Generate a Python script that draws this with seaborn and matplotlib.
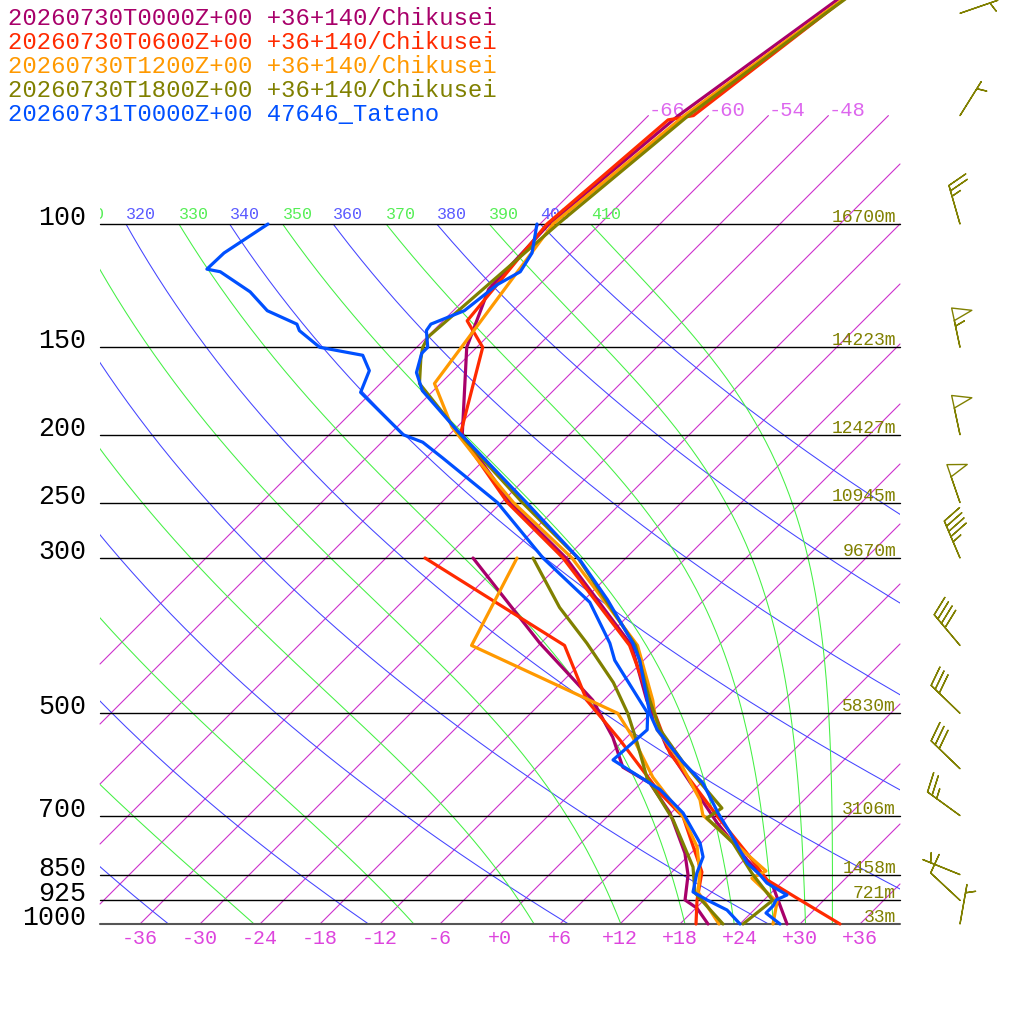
import numpy as np
import pandas as pd
import matplotlib
matplotlib.use("Agg")
import matplotlib.pyplot as plt
from matplotlib.patches import Rectangle
from matplotlib.transforms import Bbox, TransformedBbox
import seaborn as sns

# ---- sounding data (pressure hPa, temperature degC) ----
P_00_T = [1000, 885, 810, 717, 637, 559, 479, 400, 300, 250, 200, 150, 124, 100, 70, 50, 40]
T_00 = [28.7, 23.6, 18.3, 11.6, 5.6, -1.0, -7.7, -14.7, -30.0, -41.1, -52.7, -61.0, -64.6, -65.1, -63.0, -59.2, -56.7]
P_00_TD = [1000, 949, 924, 851, 792, 694, 629, 597, 541, 479, 397, 300]
TD_00 = [20.8, 18.1, 16.1, 13.9, 11.4, 5.9, 0.9, -3.4, -7.4, -13.1, -24.1, -39.3]

P_06_T = [1000, 924, 865, 792, 710, 650, 570, 479, 400, 300, 250, 200, 150, 137.5, 100, 71, 70, 50, 40]
T_06 = [34.0, 27.6, 22.3, 17.6, 11.6, 6.9, -0.1, -7.4, -14.9, -30.3, -41.4, -52.9, -59.4, -63.6, -65.3, -63.6, -61.5, -58.5, -56.6]
P_06_TD = [1000, 924, 843, 703, 650, 546, 479, 400, 300]
TD_06 = [19.6, 17.3, 15.0, 7.6, 2.9, -6.4, -13.7, -21.4, -44.1]

P_12_T = [1000, 930, 860, 840, 699, 665, 577, 528, 479, 400, 300, 250, 217, 195, 169, 100, 70, 50, 40]
T_12 = [27.3, 25.5, 20.6, 21.3, 9.4, 7.6, 1.0, -3.7, -7.1, -14.1, -29.4, -40.8, -48.7, -54.5, -60.6, -64.7, -62.4, -58.7, -56.1]
P_12_TD = [1000, 900, 846, 776, 703, 617, 541, 500, 400, 300]
TD_12 = [21.9, 16.6, 14.9, 12.0, 7.6, 0.6, -5.4, -9.3, -30.7, -34.9]

P_18_T = [1000, 925, 846, 766, 706, 683, 587, 528, 479, 400, 300, 250, 200, 169, 156, 150, 145, 100, 70, 50, 40]
T_18 = [24.3, 24.9, 20.1, 15.2, 10.1, 10.6, 2.1, -3.4, -7.4, -14.3, -28.8, -39.9, -52.9, -62.1, -64.4, -65.4, -65.9, -64.2, -62.0, -58.5, -56.0]
P_18_TD = [1000, 903, 829, 710, 617, 551, 500, 452, 397, 353, 300]
TD_18 = [22.3, 16.4, 13.6, 6.9, 0.0, -4.4, -8.3, -12.8, -19.4, -25.7, -33.3]

P_OBS_T = [1000, 964.5, 942, 924, 909, 874, 851, 818, 741, 694, 629, 587, 528, 500, 420, 397, 344, 302,
           250, 197, 173, 163, 153, 150, 142, 139, 133, 122, 117, 110, 100]
T_OBS = [28.0, 25.5, 25.5, 25.2, 25.8, 22.6, 21.1, 18.6, 13.9, 10.7, 6.2, 2.1, -3.7, -6.1, -12.4, -14.8, -21.7, -28.4,
         -39.5, -53.7, -61.1, -63.5, -64.9, -64.9, -66.7, -66.9, -64.9, -64.2, -63.2, -63.9, -66.3]
P_OBS_TD = [1000, 955, 924, 900, 846, 802, 766, 694, 643, 583, 528, 500, 420, 397, 347, 300, 250, 216, 205, 200,
            174, 162, 154, 150, 142, 139, 133, 125, 117, 116, 110, 100]
TD_OBS = [24.0, 21.3, 18.3, 16.1, 14.6, 13.6, 11.9, 7.2, 2.6, -5.1, -4.7, -6.3, -14.9, -17.1, -23.2, -32.3, -42.4,
          -52.3, -55.9, -58.6, -67.1, -68.4, -70.6, -75.7, -79.4, -80.3, -84.6, -88.2, -93.2, -94.8, -94.7, -93.2]

RUNS = ["20260730T0000Z+00 +36+140/Chikusei",
        "20260730T0600Z+00 +36+140/Chikusei",
        "20260730T1200Z+00 +36+140/Chikusei",
        "20260730T1800Z+00 +36+140/Chikusei",
        "20260731T0000Z+00 47646_Tateno"]
COLORS = ["#a8006a", "#ff2a00", "#ff9900", "#808000", "#0050ff"]

# winds (1800Z run): direction deg, speed kt
WIND_P = [1000, 925, 850, 700, 600, 500, 400, 300, 250, 200, 150, 100, 70, 50]
WIND_DIR = [10, 313, 292, 306, 314, 314, 320, 337, 341, 348, 348, 344, 32, 71]
WIND_SPD = [5, 10, 5, 25, 30, 30, 40, 45, 50, 50, 55, 25, 5, 5]

ISOBARS = [100, 150, 200, 250, 300, 500, 700, 850, 925, 1000]
HEIGHTS = ["16700m", "14223m", "12427m", "10945m", "9670m", "5830m", "3106m", "1458m", "721m", "33m"]
T_TICKS = list(range(-36, 37, 6))

SKEW = 30.4  # y units per ln(1000/p); 1 unit = 10 px


def ypos(p):
    return SKEW * np.log(1000.0 / np.asarray(p, dtype=float))


def xpos(t, p):
    return np.asarray(t, dtype=float) + ypos(p)


def theta_e(t, p):
    es = 6.112 * np.exp(17.67 * t / (t + 243.5))
    r = 0.622 * es / (p - es)
    tk = t + 273.15
    return tk * (1000.0 / p) ** (0.2854 * (1 - 0.28 * r)) * np.exp((3.376 / tk - 0.00254) * r * 1000 * (1 + 0.81 * r))


def moist_adiabat(the, p):
    lo = np.full_like(p, -160.0)
    hi = np.full_like(p, 40.0)
    with np.errstate(all="ignore"):
        for _ in range(50):
            mid = 0.5 * (lo + hi)
            below = theta_e(mid, p) < the
            lo = np.where(below, mid, lo)
            hi = np.where(below, hi, mid)
    return 0.5 * (lo + hi)


sns.set_theme(style="white")
plt.rcParams["font.family"] = ["Liberation Mono", "DejaVu Sans Mono"]

fig = plt.figure(figsize=(10.24, 10.24), dpi=100)
ax = fig.add_axes([0, 0, 1, 1])
ax.set_xlim(-50, 52.4)
ax.set_ylim(-10, 92.4)
ax.axis("off")

y_top = ypos(100)
y70 = ypos(70)
box = Rectangle((-40, 0), 80, y_top, transform=ax.transData, facecolor="none", edgecolor="none")
label_clip = TransformedBbox(Bbox([[-40, -5], [40, 95]]), ax.transData)

pgrid = np.geomspace(1000, 100, 200)


def theta_label(x, text, color):
    # labels along the 100 hPa line, cut at the left edge of the diagram
    if x + 3.0 < -40:
        return
    txt = ax.text(x, y_top + 0.55, text, color=color, fontsize=12, ha="left", va="baseline")
    txt.set_clip_box(label_clip)
    txt.set_clip_on(True)


# isotherms
for t in range(-66, 37, 6):
    y0 = max(0.0, -40 - t)
    y1 = min(y70, 40 - t)
    ax.plot([t + y0, t + y1], [y0, y1], color="#cc33cc", lw=0.8, zorder=1)
    if t <= -48:
        ax.text(t + y70, y70, f"{t}", color="#dd66ee", fontsize=14.8, ha="left", va="baseline")

# dry adiabats
for th in range(240, 401, 20):
    tt = th * (pgrid / 1000.0) ** 0.2857 - 273.15
    ln, = ax.plot(xpos(tt, pgrid), ypos(pgrid), color="#4444ff", lw=0.75, zorder=1)
    ln.set_clip_path(box)
    theta_label(th * 0.1 ** 0.2857 - 273.15 + y_top, str(th), "#5a5aff")

# moist adiabats
for th in range(250, 411, 20):
    tt = moist_adiabat(th, pgrid)
    ln, = ax.plot(xpos(tt, pgrid), ypos(pgrid), color="#44f044", lw=0.75, zorder=1)
    ln.set_clip_path(box)
    theta_label(tt[-1] + y_top, str(th), "#55ee55")

# isobars, pressure and height labels
for p, h in zip(ISOBARS, HEIGHTS):
    yy = ypos(p)
    if p == 1000:
        ax.plot([-40, 40], [yy, yy], color="#555555", lw=1.5, zorder=2)
    else:
        ax.plot([-40, 40], [yy, yy], color="black", lw=1.0, zorder=2)
    ax.text(-41.4, yy - 0.1, str(p), color="black", fontsize=19.2, ha="right", va="baseline")
    ax.text(39.6, yy + 0.2, h, color="#808000", fontsize=13, ha="right", va="baseline")

for t in T_TICKS:
    ax.text(t, -1.95, f"{t:+d}", color="#dd44dd", fontsize=14.4, ha="center", va="baseline")

# profiles
rows = []
series = [(P_00_T, T_00, P_00_TD, TD_00), (P_06_T, T_06, P_06_TD, TD_06),
          (P_12_T, T_12, P_12_TD, TD_12), (P_18_T, T_18, P_18_TD, TD_18),
          (P_OBS_T, T_OBS, P_OBS_TD, TD_OBS)]
for run, (pt, tt, pd_, td) in zip(RUNS, series):
    for kind, pp, vv in (("T", pt, tt), ("Td", pd_, td)):
        for i, (p, v) in enumerate(zip(pp, vv)):
            rows.append({"run": run, "kind": kind, "order": i,
                         "X": float(xpos(v, p)), "Y": float(ypos(p))})
df = pd.DataFrame(rows)
palette = dict(zip(RUNS, COLORS))
sns.lineplot(data=df, x="X", y="Y", hue="run", units="kind", estimator=None, sort=False,
             palette=palette, hue_order=RUNS, linewidth=2.3, legend=False, ax=ax, zorder=3)

# wind barbs
wd = np.radians(WIND_DIR)
spd = np.asarray(WIND_SPD, dtype=float)
u = -spd * np.sin(wd)
v = -spd * np.cos(wd)
ax.barbs(np.full(len(WIND_P), 46.0), ypos(WIND_P), u, v, length=7.6,
         barbcolor="#808000", flagcolor="none", linewidth=1.0,
         sizes=dict(spacing=0.14, height=0.48, width=0.32), zorder=5)

# legend
for i, (run, c) in enumerate(zip(RUNS, COLORS)):
    fig.text(8 / 1024, 1 - (25 + 24 * i) / 1024, run, color=c, fontsize=17.2, ha="left", va="baseline")

fig.savefig("out.png", dpi=100, facecolor="white")
